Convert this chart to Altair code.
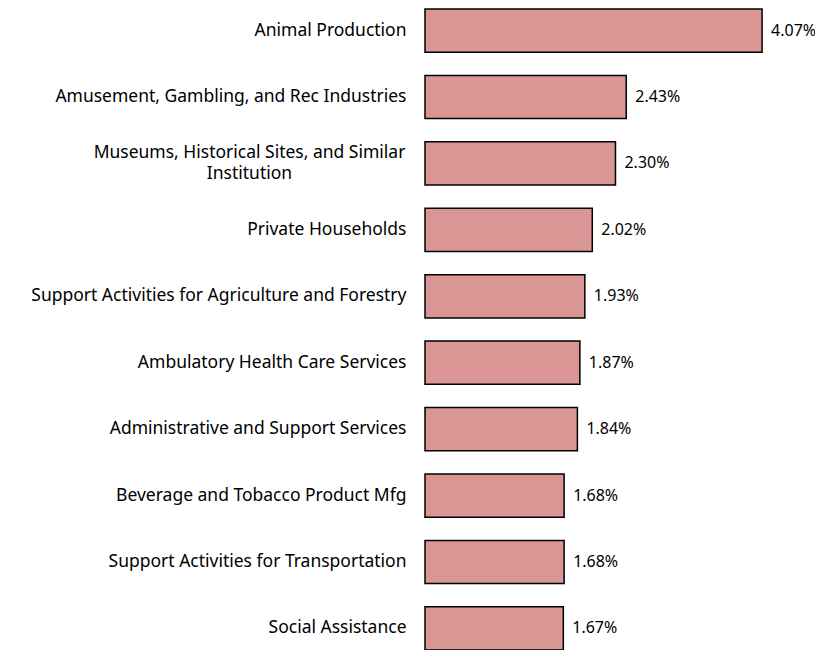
import altair as alt
import pandas as pd

categories = [
    "Animal Production",
    "Amusement, Gambling, and Rec Industries",
    "Museums, Historical Sites, and Similar|Institution",
    "Private Households",
    "Support Activities for Agriculture and Forestry",
    "Ambulatory Health Care Services",
    "Administrative and Support Services",
    "Beverage and Tobacco Product Mfg",
    "Support Activities for Transportation",
    "Social Assistance",
]
values = [4.07, 2.43, 2.30, 2.02, 1.93, 1.87, 1.84, 1.68, 1.68, 1.67]

df = pd.DataFrame({"cat": categories, "val": values})
df["lab"] = [f"{v:.2f}%" for v in values]

FONT = "Noto Sans"
FS = 17.5
multi = "indexof(datum.value, '|') >= 0"

y = alt.Y(
    "cat:N",
    sort=None,
    title=None,
    scale=alt.Scale(paddingInner=0.35, paddingOuter=0),
    axis=alt.Axis(
        domain=False,
        ticks=False,
        grid=False,
        labelExpr="split(datum.label, '|')",
        labelFont=FONT,
        labelFontSize=FS,
        labelColor="#000000",
        labelLimit=600,
        labelLineHeight=21,
        labelAlign=alt.condition(multi, alt.value("center"), alt.value("right")),
        labelPadding=alt.condition(multi, alt.value(176), alt.value(19)),
        labelOffset=alt.condition(multi, alt.value(-10), alt.value(0)),
    ),
)

bars = alt.Chart(df).mark_bar(
    color="#D99694", stroke="#000000", strokeWidth=1.5
).encode(
    y=y,
    x=alt.X("val:Q", scale=alt.Scale(domain=[0, 4.5], nice=False), axis=None),
)

text = alt.Chart(df).mark_text(
    align="left", dx=9, font=FONT, fontSize=16, color="#000000"
).encode(
    y=alt.Y("cat:N", sort=None),
    x="val:Q",
    text="lab:N",
)

chart = (
    (bars + text)
    .properties(
        width=372.7,
        height=641,
        background="#ffffff",
        autosize=alt.AutoSizeParams(type="none"),
        padding={"left": 417, "top": 1, "right": 17, "bottom": 0},
    )
    .configure_view(stroke="transparent", strokeWidth=0)
)

chart.save("out.html", embed_options={"renderer": "svg", "actions": False})
